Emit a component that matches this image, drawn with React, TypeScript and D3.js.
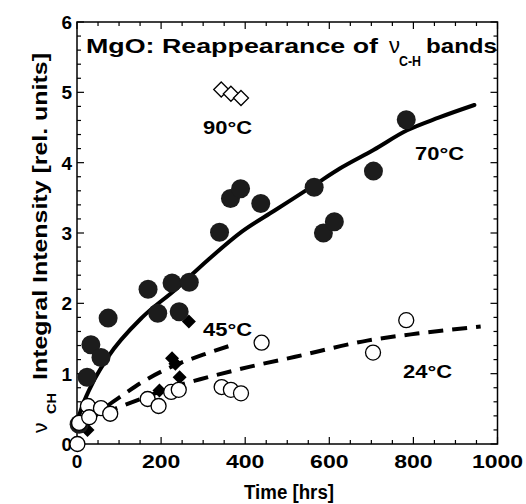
import React from 'react';
import * as d3 from 'd3';

// 70°C filled circles [hrs, intensity]
const pts70 = [
  [5, 0.28], [24, 0.95], [33, 1.41], [57, 1.23], [74, 1.79], [169, 2.2], [192, 1.86],
  [226, 2.29], [243, 1.88], [267, 2.3], [339, 3.01], [365, 3.49], [389, 3.63],
  [437, 3.42], [564, 3.65], [586, 3.0], [612, 3.16], [705, 3.88], [783, 4.61],
];
// 45°C filled diamonds
const pts45 = [[25, 0.2], [196, 0.76], [226, 1.22], [234, 1.14], [244, 0.95], [266, 1.74]];
// 24°C open circles
const pts24 = [
  [1, 0.0], [5, 0.3], [26, 0.54], [29, 0.38], [57, 0.51], [79, 0.43], [168, 0.64],
  [194, 0.54], [224, 0.74], [242, 0.77], [344, 0.81], [366, 0.77], [390, 0.72],
  [439, 1.44], [704, 1.3], [783, 1.76],
];
// 90°C open diamonds
const pts90 = [[343, 5.04], [366, 4.98], [390, 4.92]];

// fitted curves
const fit70 = [
  [2, 0.35], [12, 0.53], [40, 0.9], [74, 1.24], [155, 1.8], [233, 2.19], [312, 2.62],
  [392, 3.02], [470, 3.32], [564, 3.68], [626, 3.92], [705, 4.18], [785, 4.46],
  [860, 4.64], [945, 4.82],
];
const fit45 = [[30, 0.33], [74, 0.55], [110, 0.7], [155, 0.88], [233, 1.12], [300, 1.27], [360, 1.39]];
const fit24 = [
  [10, 0.3], [90, 0.5], [160, 0.66], [233, 0.82], [293, 0.92], [412, 1.1], [519, 1.24],
  [690, 1.47], [809, 1.57], [960, 1.67],
];

const xTicks = [0, 200, 400, 600, 800, 1000];
const yTicks = [0, 1, 2, 3, 4, 5, 6];

const FONT = '"Liberation Sans", Arial, sans-serif';

export default function App() {
  const x = d3.scaleLinear().domain([0, 1000]).range([77, 497.5]);
  const y = d3.scaleLinear().domain([0, 6]).range([444, 22]);
  const line = d3.line<number[]>()
    .x(d => x(d[0]))
    .y(d => y(d[1]))
    .curve(d3.curveMonotoneX);

  const xMinor = d3.range(0, 1001, 50);
  const yMinor = d3.range(0, 30.01, 1).map(v => v / 5);

  const diamond = (cx: number, cy: number, r: number) =>
    `M${cx},${cy - r}L${cx + r},${cy}L${cx},${cy + r}L${cx - r},${cy}Z`;

  return (
    <div style={{ position: 'absolute', left: 0, top: 0 }}>
      <svg width={526} height={504} style={{ display: 'block', background: '#fff' }}>
        {/* ticks */}
        {xMinor.map(v => {
          const len = v % 200 === 0 ? 7 : 4;
          return (
            <g key={'xt' + v} stroke="#000" strokeWidth={1.2}>
              <line x1={x(v)} x2={x(v)} y1={y(0)} y2={y(0) - len} />
              <line x1={x(v)} x2={x(v)} y1={y(6)} y2={y(6) + len} />
            </g>
          );
        })}
        {yMinor.map(v => {
          const len = Math.abs(v - Math.round(v)) < 1e-6 ? 7 : 4;
          return (
            <g key={'yt' + v} stroke="#000" strokeWidth={1.2}>
              <line x1={x(0)} x2={x(0) + len} y1={y(v)} y2={y(v)} />
              <line x1={x(1000)} x2={x(1000) - len} y1={y(v)} y2={y(v)} />
            </g>
          );
        })}
        <rect x={x(0)} y={y(6)} width={x(1000) - x(0)} height={y(0) - y(6)}
          fill="none" stroke="#000" strokeWidth={1.5} />

        {/* tick labels */}
        {xTicks.map(v => {
          const s = String(v);
          return (
            <text key={'xl' + v} x={x(v)} y={468} textAnchor="middle" fontFamily={FONT}
              fontWeight="bold" fontSize={19}
              textLength={s.length > 1 ? s.length * 12.8 : undefined}
              lengthAdjust="spacingAndGlyphs">{s}</text>
          );
        })}
        {yTicks.map(v => (
          <text key={'yl' + v} x={72} y={y(v) + 7} textAnchor="end" fontFamily={FONT}
            fontWeight="bold" fontSize={19}>{v}</text>
        ))}

        {/* axis titles */}
        <text x={289} y={499} textAnchor="middle" fontFamily={FONT} fontWeight="bold"
          fontSize={20} textLength={90} lengthAdjust="spacingAndGlyphs">Time [hrs]</text>
        <g transform="translate(47,0)">
          <text transform="translate(0,433) rotate(-90)" fontFamily={FONT} fontSize={21}>ν</text>
          <text transform="translate(9,414) rotate(-90)" fontFamily={FONT} fontWeight="bold"
            fontSize={13} textLength={21} lengthAdjust="spacingAndGlyphs">CH</text>
          <text transform="translate(0,380) rotate(-90)" fontFamily={FONT} fontWeight="bold"
            fontSize={20} textLength={327} lengthAdjust="spacingAndGlyphs">
            Integral Intensity [rel. units]
          </text>
        </g>

        {/* title */}
        <text x={86} y={53} fontFamily={FONT} fontWeight="bold" fontSize={21}
          textLength={292} lengthAdjust="spacingAndGlyphs">MgO: Reappearance of</text>
        <text x={389} y={53} fontFamily={FONT} fontSize={22}>ν</text>
        <text x={399} y={66} fontFamily={FONT} fontWeight="bold" fontSize={14}
          textLength={22} lengthAdjust="spacingAndGlyphs">C-H</text>
        <text x={426} y={53} fontFamily={FONT} fontWeight="bold" fontSize={21}
          textLength={71} lengthAdjust="spacingAndGlyphs">bands</text>

        {/* curves */}
        <path d={line(fit70) ?? ''} fill="none" stroke="#000" strokeWidth={4} strokeLinecap="round" />
        <path d={line(fit45) ?? ''} fill="none" stroke="#000" strokeWidth={4} strokeDasharray="15,9" />
        <path d={line(fit24) ?? ''} fill="none" stroke="#000" strokeWidth={4} strokeDasharray="15,9" />

        {/* markers */}
        {pts45.map((d, i) => (
          <path key={'d45' + i} d={diamond(x(d[0]), y(d[1]), 7)} fill="#000" />
        ))}
        {pts70.map((d, i) => (
          <circle key={'c70' + i} cx={x(d[0])} cy={y(d[1])} r={9.5} fill="#1c1c1c" />
        ))}
        {pts24.map((d, i) => (
          <circle key={'c24' + i} cx={x(d[0])} cy={y(d[1])} r={7.5} fill="#fff"
            stroke="#000" strokeWidth={1.3} />
        ))}
        {pts90.map((d, i) => (
          <path key={'d90' + i} d={diamond(x(d[0]), y(d[1]), 7.5)} fill="#fff"
            stroke="#000" strokeWidth={1.3} />
        ))}

        {/* temperature labels */}
        <text x={203} y={134} fontFamily={FONT} fontWeight="bold" fontSize={18}
          textLength={49} lengthAdjust="spacingAndGlyphs">90°C</text>
        <text x={415} y={160} fontFamily={FONT} fontWeight="bold" fontSize={18}
          textLength={49} lengthAdjust="spacingAndGlyphs">70°C</text>
        <text x={203} y={336} fontFamily={FONT} fontWeight="bold" fontSize={18}
          textLength={49} lengthAdjust="spacingAndGlyphs">45°C</text>
        <text x={403} y={378} fontFamily={FONT} fontWeight="bold" fontSize={18}
          textLength={49} lengthAdjust="spacingAndGlyphs">24°C</text>
      </svg>
    </div>
  );
}
